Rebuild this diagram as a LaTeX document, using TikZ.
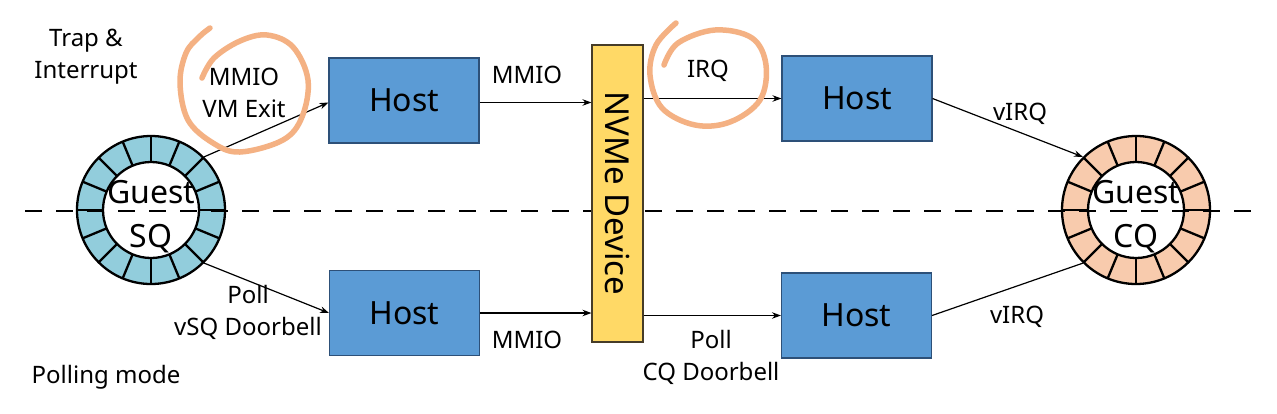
\documentclass[tikz,border=0pt]{standalone}
\usepackage{fontspec}
\setmainfont{Noto Sans}
\usetikzlibrary{arrows.meta,calc}
\definecolor{hostblue}{RGB}{91,155,213}
\definecolor{hostedge}{RGB}{45,80,120}
\definecolor{nvmefill}{RGB}{255,217,102}
\definecolor{nvmeedge}{RGB}{70,60,40}
\definecolor{sqfill}{RGB}{146,205,220}
\definecolor{cqfill}{RGB}{248,203,173}
\definecolor{markorange}{RGB}{244,177,131}
\tikzset{
  hostbox/.style={draw=hostedge, line width=1.1pt, fill=hostblue, minimum width=150pt, minimum height=85pt, inner sep=0pt, font=\fontsize{32}{38}\selectfont},
  nvmebox/.style={draw=nvmeedge, line width=1.1pt, fill=nvmefill, minimum width=51pt, minimum height=297pt, inner sep=0pt},
  ringouter/.style={circle, draw, line width=2.3pt, minimum size=148pt, inner sep=0pt},
  ringtext/.style={align=center, font=\fontsize{32}{44}\selectfont},
  lbl/.style={align=center, font=\fontsize{24}{32}\selectfont},
  conn/.style={line width=1.2pt},
  arr/.style={conn, -{Stealth[length=9pt,width=6.5pt]}},
  orangemark/.style={draw=markorange, line width=5.5pt, line cap=round, line join=round},
  sepline/.style={line width=2.2pt, dash pattern=on 17pt off 14pt}
}
\begin{document}
\begin{tikzpicture}[x=1pt,y=-1pt]
\useasboundingbox (0,0) rectangle (1277,413);
\fill[white] (0,0) rectangle (1277,413);

% Guest SQ ring
\node[ringouter, fill=sqfill] (sq) at (151,210) {};
\draw[line width=2.3pt, fill=white] (sq.center) circle[radius=48];
\foreach \a in {0,22.5,...,337.5}
  \draw[line width=2.3pt] ($(sq.center)+(\a:48)$) -- ($(sq.center)+(\a:74)$);

% Guest CQ ring
\node[ringouter, fill=cqfill] (cq) at (1136,210) {};
\draw[line width=2.3pt, fill=white] (cq.center) circle[radius=48];
\foreach \a in {0,22.5,...,337.5}
  \draw[line width=2.3pt] ($(cq.center)+(\a:48)$) -- ($(cq.center)+(\a:74)$);

% dashed separator
\coordinate (dl) at (25,211);
\coordinate (dr) at (1256,211);
\draw[sepline] (dl) -- (dr);

% ring texts
\node[ringtext] at ($(sq.center)+(0,7)$) {Guest\\SQ};
\node[ringtext] at ($(cq.center)+(0,7)$) {Guest\\CQ};

% NVMe device
\node[nvmebox] (nvme) at (617.5,193.5) {};
\node[rotate=-90, font=\fontsize{33}{40}\selectfont] at (nvme.center) {NVMe Device};

% Hosts
\node[hostbox] (hUL) at (404,100.5) {Host};
\node[hostbox] (hLL) at (404.5,313) {Host};
\node[hostbox] (hUR) at (857,98.5) {Host};
\node[hostbox] (hLR) at (856.5,315.5) {Host};

% connectors
\coordinate (ulout) at ($(hUL.east)+(0,2)$);
\coordinate (ulin) at ($(hUL.west)+(0,2)$);
\draw[arr] (sq.45) -- (ulin);
\draw[arr] (ulout) -- (ulout -| nvme.west);
\draw[arr] (hUR.west -| nvme.east) -- (hUR.west);
\draw[arr] (hUR.east) -- (cq.135);
\draw[arr] (sq.-45) -- (hLL.west);
\draw[arr] (hLL.east) -- (hLL.east -| nvme.west);
\draw[arr] (hLR.west -| nvme.east) -- (hLR.west);
\draw[conn] (hLR.east) -- (cq.225);

% labels
\node[lbl] (trap) at (86,57) {Trap \&\\Interrupt};
\node[lbl] (vmexit) at (244,93) {MMIO\\VM Exit};
\node[lbl] (mmio1) at (527,75) {MMIO};
\node[lbl] (irq) at (708,71) {IRQ};
\node[lbl] (virq1) at (1020,114) {vIRQ};
\node[lbl] (pollsq) at (248,312) {Poll\\vSQ Doorbell};
\node[lbl] (mmio2) at (527,340) {MMIO};
\node[lbl] (pollcq) at (711,357) {Poll\\CQ Doorbell};
\node[lbl] (virq2) at (1017,317) {vIRQ};
\node[lbl] (polling) at (106,377) {Polling mode};

% orange hand-drawn circles
\draw[orangemark] plot[smooth, tension=0.6] coordinates {(202,78) (214,58) (240,41) (267,35) (293,47) (308,80) (302,117) (283,140) (240,152) (213,143) (188,120) (180,83) (186,53) (199,37) (210,28)};
\draw[orangemark] plot[smooth, tension=0.6] coordinates {(664,65) (678,43) (715,30) (752,38) (766,65) (760,100) (730,122) (695,125) (662,108) (650,75) (656,45) (676,23)};
\end{tikzpicture}
\end{document}
